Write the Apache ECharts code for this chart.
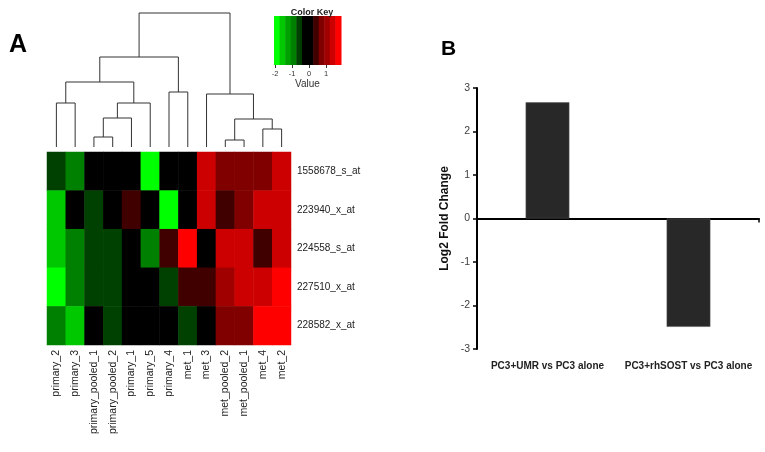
<!DOCTYPE html>
<html>
<head>
<meta charset="utf-8">
<script src="https://cdn.jsdelivr.net/npm/echarts@6/dist/echarts.min.js"></script>
<style>html,body{margin:0;padding:0;background:#fff}#c{width:765px;height:452px}</style>
</head>
<body>
<div id="c"></div>
<script>
// ---- Panel A: heatmap data ----
const rowLabels = ['1558678_s_at','223940_x_at','224558_s_at','227510_x_at','228582_x_at'];
const colLabels = ['primary_2','primary_3','primary_pooled_1','primary_pooled_2','primary_1','primary_5','primary_4','met_1','met_3','met_pooled_2','met_pooled_1','met_4','met_2'];
const row0 = [-0.6,-0.9,0,0,0,-1.9,0,0,1.4,0.75,0.75,0.75,1.4];
const row1 = [-1.55,0,-0.6,0,0.4,0,-1.9,0,1.4,0.4,0.75,1.4,1.4];
const row2 = [-1.55,-0.9,-0.6,-0.6,0,-0.9,0.4,1.7,0,1.4,1.4,0.4,1.4];
const row3 = [-1.9,-0.9,-0.6,-0.6,0,0,-0.6,0.4,0.4,1.05,1.4,1.4,1.7];
const row4 = [-0.9,-1.55,0,-0.6,0,0,0,-0.6,0,0.75,0.75,1.7,1.7];
const rows = [row0,row1,row2,row3,row4];

// color key
const keyMin = -2.06, keyMax = 1.88;
const keyColors = ['#00ff00','#00c800','#00a000','#008000','#004000','#000000','#000000','#400000','#800000','#a00000','#cc0000','#ff0000'];
const keyTicks = [-2,-1,0,1];

// dendrogram (R hclust convention: negative = leaf, positive = merge)
const mergeA = [-1,-3,2,3,1,-7,5,-10,-12,8,-9,7];
const mergeB = [-2,-4,-5,-6,4,-8,6,-11,-13,9,10,11];
const mergeHeight = [44,10,29,44,65,55,90,7,18,28,53,134];

// ---- Panel B: bar data ----
const barCategories = ['PC3+UMR vs PC3 alone','PC3+rhSOST vs PC3 alone'];
const barValues = [2.67,-2.49];

// ---- build ----
const heatData = [];
rows.forEach((r, ri) => r.forEach((v, ci) => heatData.push([ci, ri, v])));

const nBands = keyColors.length;
const step = (keyMax - keyMin) / nBands;
const keyBreaks = [];
for (let i = 0; i <= nBands; i++) keyBreaks.push(keyMin + i * step);
const pieces = keyColors.map((c, i) => ({
  gte: i === 0 ? -100 : keyBreaks[i],
  lt: i === nBands - 1 ? 100 : keyBreaks[i + 1],
  color: c
}));
const keyData = keyColors.map((c, i) => [keyBreaks[i], keyBreaks[i + 1], i]);

const mPos = [], mH = [];
function pos(ref) { return ref < 0 ? (-ref - 1) : mPos[ref - 1]; }
function hgt(ref) { return ref < 0 ? 0 : mH[ref - 1]; }
const dendroData = [];
for (let i = 0; i < mergeA.length; i++) {
  const xa = pos(mergeA[i]), xb = pos(mergeB[i]);
  dendroData.push([xa, hgt(mergeA[i]), xb, hgt(mergeB[i]), mergeHeight[i]]);
  mPos.push((xa + xb) / 2);
  mH.push(mergeHeight[i]);
}

const chart = echarts.init(document.getElementById('c'));
const F = 'Liberation Sans, Arial, sans-serif';
chart.setOption({
  animation: false,
  backgroundColor: '#fff',
  title: [
    {text: 'A', left: 4, top: 28, textStyle: {fontSize: 25, fontWeight: 'bold', color: '#000', fontFamily: F}},
    {text: 'B', left: 436, top: 34, textStyle: {fontSize: 21, fontWeight: 'bold', color: '#000', fontFamily: F}},
    {text: 'Color Key', left: 307, top: 3, textAlign: 'center', textStyle: {fontSize: 9, fontWeight: 'bold', color: '#222', fontFamily: F}}
  ],
  grid: [
    {left: 47, top: 152, width: 244, height: 193},
    {left: 47, top: 13, width: 244, height: 134},
    {left: 274, top: 16, width: 67, height: 49},
    {left: 477, top: 88, width: 282, height: 261}
  ],
  visualMap: {type: 'piecewise', show: false, seriesIndex: 0, dimension: 2, pieces: pieces},
  xAxis: [
    {type: 'category', gridIndex: 0, data: colLabels, axisLine: {show: false}, axisTick: {show: false},
     axisLabel: {rotate: 90, margin: 5, fontSize: 10.5, color: '#222', fontFamily: F, interval: 0}},
    {type: 'value', gridIndex: 1, min: -0.5, max: 12.5, show: false},
    {type: 'value', gridIndex: 2, min: keyMin, max: keyMax, splitLine: {show: false},
     axisLine: {show: false},
     axisTick: {show: true, length: 3, customValues: keyTicks, lineStyle: {color: '#333'}},
     axisLabel: {customValues: keyTicks, fontSize: 7.5, margin: 5, color: '#333', fontFamily: F},
     name: 'Value', nameLocation: 'middle', nameGap: 13, nameTextStyle: {fontSize: 10, color: '#333', fontFamily: F}},
    {type: 'category', gridIndex: 3, data: barCategories,
     axisLine: {onZero: true, lineStyle: {color: '#000', width: 2}},
     axisTick: {show: true, length: 4, lineStyle: {color: '#000', width: 1.5}},
     axisLabel: {show: false}},
    {type: 'category', gridIndex: 3, data: barCategories, position: 'bottom',
     axisLine: {show: false, onZero: false}, axisTick: {show: false},
     axisLabel: {interval: 0, hideOverlap: false, margin: 12, fontSize: 10, fontWeight: 'bold', color: '#222', fontFamily: F}}
  ],
  yAxis: [
    {type: 'category', gridIndex: 0, data: rowLabels, inverse: true, position: 'right',
     axisLine: {show: false}, axisTick: {show: false},
     axisLabel: {margin: 6, fontSize: 10, color: '#222', fontFamily: F}},
    {type: 'value', gridIndex: 1, min: 0, max: 134, show: false},
    {type: 'value', gridIndex: 2, min: 0, max: 1, show: false},
    {type: 'value', gridIndex: 3, min: -3, max: 3, interval: 1, splitLine: {show: false},
     axisLine: {show: true, lineStyle: {color: '#000', width: 2}},
     axisTick: {show: true, length: 4, lineStyle: {color: '#000', width: 1.5}},
     axisLabel: {fontSize: 10.5, color: '#404040', margin: 7, fontFamily: F},
     name: 'Log2 Fold Change', nameLocation: 'middle', nameGap: 26,
     nameTextStyle: {fontSize: 12, fontWeight: 'bold', color: '#111', fontFamily: F}}
  ],
  series: [
    {type: 'heatmap', xAxisIndex: 0, yAxisIndex: 0, data: heatData, itemStyle: {borderWidth: 0}, emphasis: {disabled: true}},
    {type: 'custom', xAxisIndex: 1, yAxisIndex: 1, data: dendroData, encode: {x: [0, 2], y: [1, 3, 4]},
     renderItem: function (params, api) {
       const xa = api.value(0), ha = api.value(1), xb = api.value(2), hb = api.value(3), h = api.value(4);
       const pts = [api.coord([xa, ha]), api.coord([xa, h]), api.coord([xb, h]), api.coord([xb, hb])];
       return {type: 'polyline', shape: {points: pts}, style: {stroke: '#333', fill: null, lineWidth: 1}};
     }},
    {type: 'custom', xAxisIndex: 2, yAxisIndex: 2, data: keyData, encode: {x: [0, 1]},
     renderItem: function (params, api) {
       const p0 = api.coord([api.value(0), 1]);
       const p1 = api.coord([api.value(1), 0]);
       return {type: 'rect', shape: {x: p0[0], y: p0[1], width: p1[0] - p0[0] + 0.5, height: p1[1] - p0[1]},
               style: {fill: keyColors[api.value(2)]}};
     }},
    {type: 'bar', xAxisIndex: 3, yAxisIndex: 3, data: barValues, barWidth: '31%',
     itemStyle: {color: '#282828', borderColor: '#555', borderWidth: 0.5}}
  ]
});
</script>
</body>
</html>
